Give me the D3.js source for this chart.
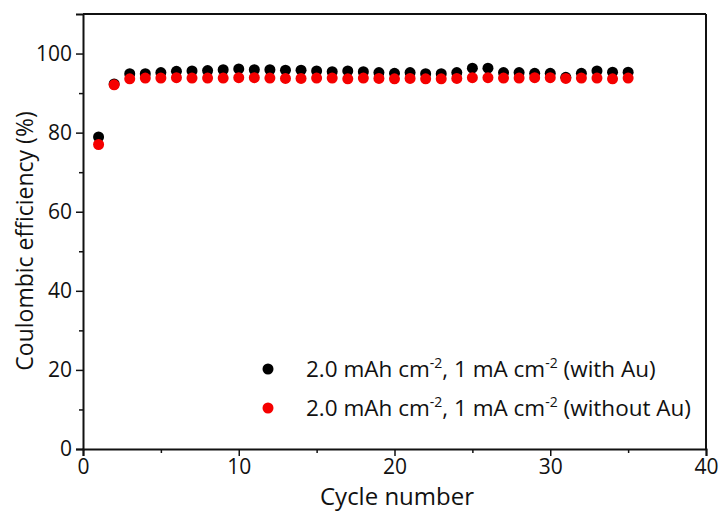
<html>
<head>
<meta charset="utf-8">
<script src="https://d3js.org/d3.v7.min.js"></script>
<style>
  body { margin: 0; background: #fff; }
  text { font-family: "Open Sans", Lato, sans-serif; fill: #111; }
</style>
</head>
<body>
<script>
// cycle numbers 1..35
var cycles = [1,2,3,4,5,6,7,8,9,10,11,12,13,14,15,16,17,18,19,20,21,22,23,24,25,26,27,28,29,30,31,32,33,34,35];

// coulombic efficiency (%), with Au
var withAu = [78.9,92.3,94.9,94.9,95.2,95.5,95.6,95.7,95.9,96.1,95.9,95.9,95.8,95.8,95.6,95.4,95.6,95.4,95.2,95.0,
              95.2,94.9,94.9,95.2,96.3,96.3,95.2,95.2,95.0,95.0,94.0,95.0,95.6,95.3,95.3];

// coulombic efficiency (%), without Au
var withoutAu = [77.0,92.1,93.6,93.8,93.8,93.9,93.8,93.8,93.8,93.9,93.9,93.8,93.7,93.7,93.8,93.8,93.6,93.8,93.7,93.6,
                 93.7,93.6,93.6,93.7,93.9,93.9,93.8,93.8,93.9,93.9,93.7,93.8,93.8,93.6,93.8];

var xTicks = [0,10,20,30,40];
var yTicks = [0,20,40,60,80,100];

var width = 723, height = 513;
var padL = 83, padR = 706, padT = 14, padB = 449;

var svg = d3.select("body").append("svg")
    .attr("width", width)
    .attr("height", height);

var x = d3.scaleLinear().domain([0, 40]).range([padL, padR]);
var y = d3.scaleLinear().domain([0, 110]).range([padB, padT]);

// minor ticks
svg.append("g")
    .attr("transform", "translate(0," + padB + ")")
    .call(d3.axisBottom(x).tickValues([5,15,25,35]).tickSize(4).tickFormat(""))
    .call(g => g.select(".domain").remove());
svg.append("g")
    .attr("transform", "translate(" + padL + ",0)")
    .call(d3.axisLeft(y).tickValues([10,30,50,70,90]).tickSize(4).tickFormat(""))
    .call(g => g.select(".domain").remove());

// major axes
var xAxis = svg.append("g")
    .attr("transform", "translate(0," + padB + ")")
    .call(d3.axisBottom(x).tickValues(xTicks).tickSize(7).tickPadding(2));
var yAxis = svg.append("g")
    .attr("transform", "translate(" + padL + ",0)")
    .call(d3.axisLeft(y).tickValues(yTicks).tickSize(7).tickPadding(4));

svg.selectAll(".tick line").attr("stroke", "#111").attr("stroke-width", 1.5);
svg.selectAll(".domain").attr("stroke", "#111").attr("stroke-width", 2);
svg.selectAll(".tick text").style("font-size", "21px").attr("fill", "#111");
xAxis.selectAll(".tick text").attr("dy", "0.75em");

// top and right frame
svg.append("line").attr("x1", padL).attr("x2", padR).attr("y1", padT).attr("y2", padT)
    .attr("stroke", "#111").attr("stroke-width", 2);
svg.append("line").attr("x1", padR).attr("x2", padR).attr("y1", padT).attr("y2", padB)
    .attr("stroke", "#111").attr("stroke-width", 2);

// axis titles
svg.append("text")
    .attr("x", 397)
    .attr("y", 505)
    .attr("text-anchor", "middle")
    .style("font-size", "24px")
    .text("Cycle number");
svg.append("text")
    .attr("transform", "translate(33,241) rotate(-90)")
    .attr("text-anchor", "middle")
    .style("font-size", "23px")
    .text("Coulombic efficiency (%)");

// points
svg.append("g").selectAll("circle")
    .data(cycles)
    .enter().append("circle")
    .attr("cx", (d) => x(d))
    .attr("cy", (d, i) => y(withAu[i]))
    .attr("r", 5.5)
    .attr("fill", "#000");

svg.append("g").selectAll("circle")
    .data(cycles)
    .enter().append("circle")
    .attr("cx", (d) => x(d))
    .attr("cy", (d, i) => y(withoutAu[i]))
    .attr("r", 5.5)
    .attr("fill", "#f50000");

// legend
var legend = [
  {color: "#000", tail: " (with Au)"},
  {color: "#f50000", tail: " (without Au)"}
];
var lg = svg.append("g").selectAll("g")
    .data(legend)
    .enter().append("g")
    .attr("transform", (d, i) => "translate(268," + (369 + i * 39) + ")");
lg.append("circle").attr("r", 5.5).attr("fill", (d) => d.color);
var lt = lg.append("text")
    .attr("x", 38)
    .attr("y", 8)
    .style("font-size", "22.5px");
lt.append("tspan").text("2.0 mAh cm");
lt.append("tspan").attr("dy", -9).style("font-size", "14px").text("-2");
lt.append("tspan").attr("dy", 9).text(", 1 mA cm");
lt.append("tspan").attr("dy", -9).style("font-size", "14px").text("-2");
lt.append("tspan").attr("dy", 9).text((d) => d.tail);
</script>
</body>
</html>
